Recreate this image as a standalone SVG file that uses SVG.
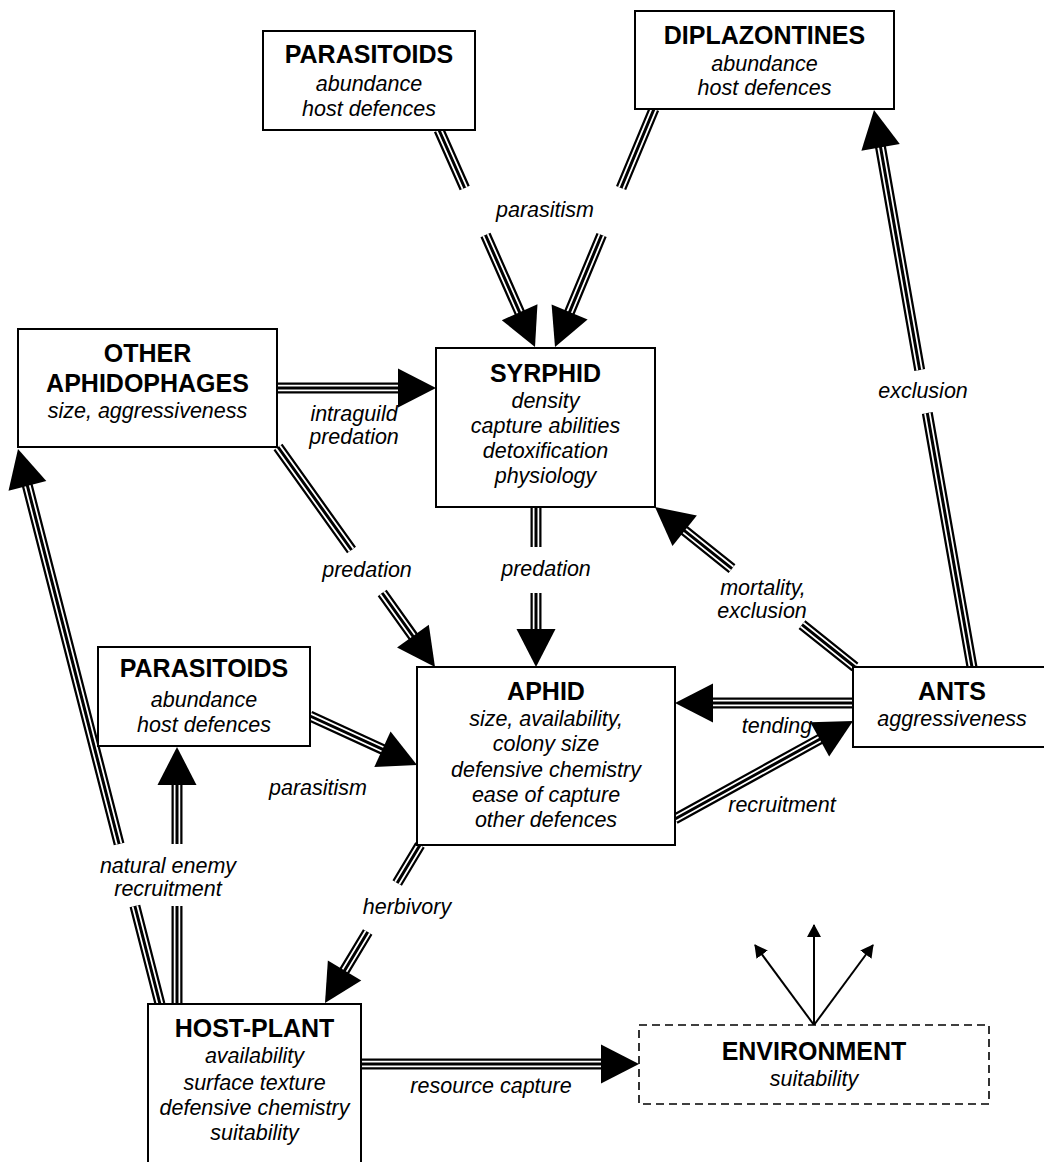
<svg xmlns="http://www.w3.org/2000/svg" xmlns:xlink="http://www.w3.org/1999/xlink" width="1044" height="1162" viewBox="0 0 1044 1162">
<style>
.box{fill:#fff;stroke:#000;stroke-width:2}
.env{fill:#fff;stroke:#000;stroke-width:1.6;stroke-dasharray:8 5}
.t{font-family:"Liberation Sans",Arial,sans-serif;font-weight:bold;font-size:25px;text-anchor:middle;fill:#000}
.s{font-family:"Liberation Sans",Arial,sans-serif;font-style:italic;font-size:21.5px;text-anchor:middle;fill:#000}
.o{fill:none;stroke:#000;stroke-width:11}
.w{fill:none;stroke:#fff;stroke-width:6.5}
.i{fill:none;stroke:#000;stroke-width:3}
.thin{fill:none;stroke:#000;stroke-width:2;marker-end:url(#sm)}
</style>
<defs>
<path id="ah" d="M0,0 L-38,-19.5 L-38,19.5 Z" fill="#000"/>
<marker id="sm" markerUnits="userSpaceOnUse" markerWidth="14" markerHeight="14" refX="12" refY="7" orient="auto">
<path d="M0,0 L13,7 L0,14 Z" fill="#000"/>
</marker>
<path id="c1" d="M439,130 L464.7,188 M485.5,235 L521.2,315.9"/>
<path id="c2" d="M654,109 L621.1,188 M601.6,235 L568.1,315.6"/>
<path id="c3" d="M277,388 L402,388"/>
<path id="c4" d="M278,447 L351.5,550 M382.2,593 L415.2,639.3"/>
<path id="c5" d="M536,507 L536,547 M536,593 L536,633"/>
<path id="c6" d="M855,667 L802,624.6 M732,568.6 L681.6,528.3"/>
<path id="c7" d="M972,667 L927.3,413 M919.7,370 L879.9,143.5"/>
<path id="c8" d="M853,703 L709,703"/>
<path id="c9" d="M675,819 L822.4,737.7"/>
<path id="c10" d="M310,716 L386.1,750.9"/>
<path id="c11" d="M420,845 L397.2,883 M367.7,932 L342.5,973.9"/>
<path id="c12" d="M177,1004 L177,906 M177,844 L177,781"/>
<path id="c13" d="M160,1004 L134.9,906 M119.1,844 L26.4,481.9"/>
<path id="c14" d="M361,1064 L605,1064"/>
</defs>
<rect width="1044" height="1162" fill="#fff"/>

<g id="connectors">
<g id="e-parasitoids-syrphid"><use href="#c1" class="o"/><use href="#c1" class="w"/><use href="#c1" class="i"/><use href="#ah" transform="translate(535,347) rotate(66.13)"/></g>
<g id="e-diplazontines-syrphid"><use href="#c2" class="o"/><use href="#c2" class="w"/><use href="#c2" class="i"/><use href="#ah" transform="translate(555,347) rotate(112.6)"/></g>
<text class="s" x="545" y="217">parasitism</text>
<g id="e-other-syrphid"><use href="#c3" class="o"/><use href="#c3" class="w"/><use href="#c3" class="i"/><use href="#ah" transform="translate(436,388)"/>
<text class="s" x="354" y="421">intraguild</text><text class="s" x="354" y="444">predation</text></g>
<g id="e-other-aphid"><use href="#c4" class="o"/><use href="#c4" class="w"/><use href="#c4" class="i"/><use href="#ah" transform="translate(435,667) rotate(54.5)"/>
<text class="s" x="367" y="577">predation</text></g>
<g id="e-syrphid-aphid"><use href="#c5" class="o"/><use href="#c5" class="w"/><use href="#c5" class="i"/><use href="#ah" transform="translate(536,667) rotate(90)"/>
<text class="s" x="546" y="576">predation</text></g>
<g id="e-ants-syrphid"><use href="#c6" class="o"/><use href="#c6" class="w"/><use href="#c6" class="i"/><use href="#ah" transform="translate(655,507) rotate(-141.34)"/>
<text class="s" x="763" y="595">mortality,</text><text class="s" x="762" y="618">exclusion</text></g>
<g id="e-ants-diplazontines"><use href="#c7" class="o"/><use href="#c7" class="w"/><use href="#c7" class="i"/><use href="#ah" transform="translate(874,110) rotate(-99.98)"/>
<text class="s" x="923" y="398">exclusion</text></g>
<g id="e-ants-aphid"><use href="#c8" class="o"/><use href="#c8" class="w"/><use href="#c8" class="i"/><use href="#ah" transform="translate(675,703) rotate(180)"/>
<text class="s" x="777" y="733">tending</text></g>
<g id="e-aphid-ants"><use href="#c9" class="o"/><use href="#c9" class="w"/><use href="#c9" class="i"/><use href="#ah" transform="translate(853,721) rotate(-28.9)"/>
<text class="s" x="782" y="812">recruitment</text></g>
<g id="e-parasitoids2-aphid"><use href="#c10" class="o"/><use href="#c10" class="w"/><use href="#c10" class="i"/><use href="#ah" transform="translate(417,765) rotate(24.6)"/>
<text class="s" x="318" y="795">parasitism</text></g>
<g id="e-aphid-hostplant"><use href="#c11" class="o"/><use href="#c11" class="w"/><use href="#c11" class="i"/><use href="#ah" transform="translate(325,1003) rotate(121)"/>
<text class="s" x="407" y="914">herbivory</text></g>
<g id="e-hostplant-parasitoids2"><use href="#c12" class="o"/><use href="#c12" class="w"/><use href="#c12" class="i"/><use href="#ah" transform="translate(177,747) rotate(-90)"/></g>
<g id="e-hostplant-other"><use href="#c13" class="o"/><use href="#c13" class="w"/><use href="#c13" class="i"/><use href="#ah" transform="translate(18,449) rotate(-104.35)"/></g>
<text class="s" x="168" y="873">natural enemy</text><text class="s" x="168" y="896">recruitment</text>
<g id="e-hostplant-environment"><use href="#c14" class="o"/><use href="#c14" class="w"/><use href="#c14" class="i"/><use href="#ah" transform="translate(639,1064)"/>
<text class="s" x="491" y="1093">resource capture</text></g>
<g id="e-environment-out">
<line class="thin" x1="814" y1="1025" x2="814" y2="925"/>
<line class="thin" x1="814" y1="1025" x2="755" y2="945"/>
<line class="thin" x1="814" y1="1025" x2="873" y2="945"/>
</g>
</g>

<g id="n-parasitoids-top"><rect class="box" x="263" y="31" width="212" height="99"/>
<text class="t" x="369" y="63">PARASITOIDS</text><text class="s" x="369" y="91">abundance</text><text class="s" x="369" y="116">host defences</text></g>
<g id="n-diplazontines"><rect class="box" x="635" y="11" width="259" height="98"/>
<text class="t" x="764.5" y="44">DIPLAZONTINES</text><text class="s" x="764.5" y="71">abundance</text><text class="s" x="764.5" y="95">host defences</text></g>
<g id="n-other"><rect class="box" x="18" y="329" width="259" height="118"/>
<text class="t" x="147.5" y="362">OTHER</text><text class="t" x="147.5" y="392">APHIDOPHAGES</text><text class="s" x="147.5" y="418">size, aggressiveness</text></g>
<g id="n-syrphid"><rect class="box" x="436" y="348" width="219" height="159"/>
<text class="t" x="545.5" y="382">SYRPHID</text><text class="s" x="545.5" y="408">density</text><text class="s" x="545.5" y="433">capture abilities</text><text class="s" x="545.5" y="458">detoxification</text><text class="s" x="545.5" y="483">physiology</text></g>
<g id="n-parasitoids-low"><rect class="box" x="98" y="647" width="212" height="99"/>
<text class="t" x="204" y="677">PARASITOIDS</text><text class="s" x="204" y="707">abundance</text><text class="s" x="204" y="732">host defences</text></g>
<g id="n-aphid"><rect class="box" x="417" y="667" width="258" height="178"/>
<text class="t" x="546" y="700">APHID</text><text class="s" x="546" y="726">size, availability,</text><text class="s" x="546" y="751">colony size</text><text class="s" x="546" y="777">defensive chemistry</text><text class="s" x="546" y="802">ease of capture</text><text class="s" x="546" y="827">other defences</text></g>
<g id="n-ants"><rect class="box" x="853" y="667" width="200" height="80"/>
<text class="t" x="952" y="700">ANTS</text><text class="s" x="952" y="726">aggressiveness</text></g>
<g id="n-hostplant"><rect class="box" x="148" y="1004" width="213" height="170"/>
<text class="t" x="254.5" y="1037">HOST-PLANT</text><text class="s" x="254.5" y="1063">availability</text><text class="s" x="254.5" y="1090">surface texture</text><text class="s" x="254.5" y="1115">defensive chemistry</text><text class="s" x="254.5" y="1140">suitability</text></g>
<g id="n-environment"><rect class="env" x="639" y="1025" width="350" height="79"/>
<text class="t" x="814" y="1060">ENVIRONMENT</text><text class="s" x="814" y="1086">suitability</text></g>
</svg>
